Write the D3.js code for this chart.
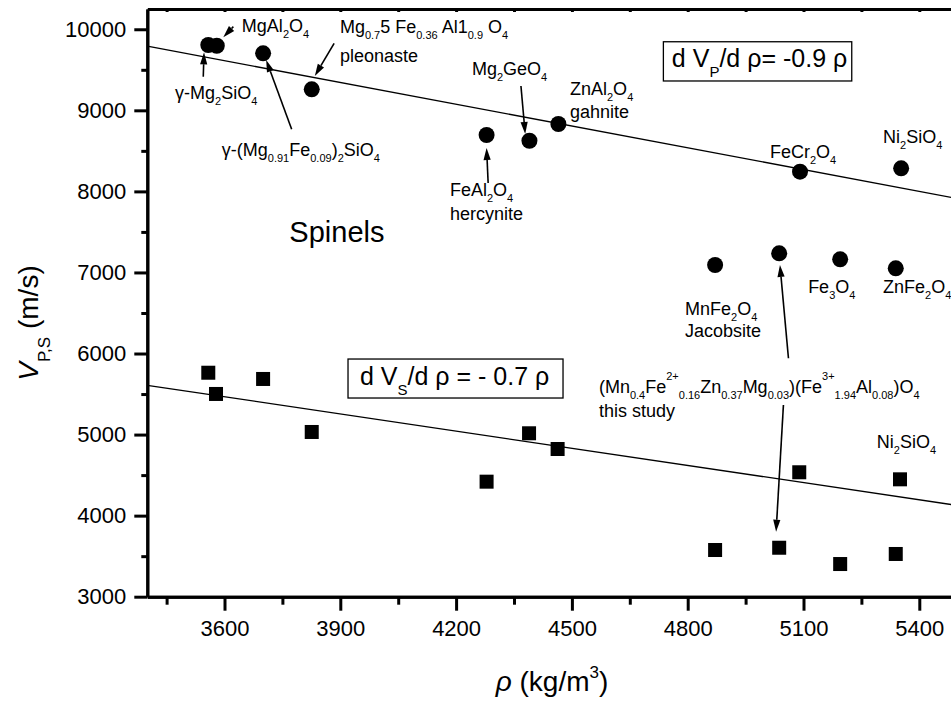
<!DOCTYPE html>
<html>
<head>
<meta charset="utf-8">
<title>Spinels velocity vs density</title>
<style>
  html, body {margin:0px; padding:0px; background:#fff;}
  svg {display:block;}
  text {font-family: "Liberation Sans", Arial, sans-serif; fill:#000; white-space:pre;}
</style>
</head>
<body>

<svg></svg>

<script src="https://d3js.org/d3.v7.min.js"></script>
<script>
// P-wave velocities (circles)
const vpNames = ["g-Mg2SiO4", "MgAl2O4", "g-(Mg,Fe)2SiO4", "pleonaste", "FeAl2O4", "Mg2GeO4", "ZnAl2O4",
                 "FeCr2O4", "Ni2SiO4", "MnFe2O4", "this study", "Fe3O4", "ZnFe2O4"];
const vpRho = [3558, 3580, 3700, 3826, 4279, 4390, 4465, 5091, 5353, 4871, 5037, 5195, 5339];
const vpVel = [9806, 9797, 9703, 9259, 8696, 8625, 8831, 8243, 8285, 7092, 7236, 7162, 7051];

// S-wave velocities (squares)
const vsRho = [3558, 3578, 3700, 3826, 4279, 4389, 4463, 5089, 5350, 4871, 5037, 5195, 5339];
const vsVel = [5763, 5501, 5686, 5032, 4419, 5016, 4822, 4535, 4448, 3576, 3604, 3403, 3527];

// linear fits
const fitRho = [3400, 5500];
const fitVp = [9791, 7911];
const fitVs = [5608, 4125];

// ticks
const xMajor = [3600, 3900, 4200, 4500, 4800, 5100, 5400];
const xMinor = [3450, 3750, 4050, 4350, 4650, 4950, 5250];
const yMajor = [3000, 4000, 5000, 6000, 7000, 8000, 9000, 10000];
const yMinor = [3500, 4500, 5500, 6500, 7500, 8500, 9500];

// annotation text, placed in data units
const labels = [
  {t: "MgAl_{2}O_{4}", r: 3645, v: 9970},
  {t: "Mg_{0.7}5 Fe_{0.36} Al1_{0.9} O_{4}", r: 3899, v: 9950},
  {t: "pleonaste", r: 3899, v: 9592},
  {t: "γ-Mg_{2}SiO_{4}", r: 3472, v: 9140},
  {t: "γ-(Mg_{0.91}Fe_{0.09})_{2}SiO_{4}", r: 3593, v: 8436},
  {t: "Mg_{2}GeO_{4}", r: 4241, v: 9436},
  {t: "ZnAl_{2}O_{4}", r: 4495, v: 9189},
  {t: "gahnite", r: 4495, v: 8902},
  {t: "FeAl_{2}O_{4}", r: 4184, v: 7943},
  {t: "hercynite", r: 4184, v: 7647},
  {t: "FeCr_{2}O_{4}", r: 5013, v: 8408},
  {t: "Ni_{2}SiO_{4}", r: 5306, v: 8593},
  {t: "MnFe_{2}O_{4}", r: 4793, v: 6475},
  {t: "Jacobsite", r: 4793, v: 6204},
  {t: "Fe_{3}O_{4}", r: 5112, v: 6746},
  {t: "ZnFe_{2}O_{4}", r: 5306, v: 6746},
  {t: "(Mn_{0.4}Fe^{2+}_{0.16}Zn_{0.37}Mg_{0.03})(Fe^{3+}_{1.94}Al_{0.08})O_{4}", r: 4570, v: 5513},
  {t: "this study", r: 4570, v: 5217},
  {t: "Ni_{2}SiO_{4}", r: 5290, v: 4834}
];

const arrows = [
  [[3623, 10032], [3597, 9901]],
  [[3545, 9415], [3547, 9716]],
  [[3774, 8766], [3708, 9621]],
  [[3884, 9827], [3834, 9423]],
  [[4368, 9300], [4379, 8708]],
  [[4283, 8103], [4279, 8535]],
  [[5061, 5941], [5039, 7092]],
  [[5048, 5365], [5029, 3802]]
];

const boxes = [
  {t: "d V_{P}/d ρ= -0.9 ρ", r: 4759, v: 9538, box: [4737, 5225, 9846, 9362]},
  {t: "d V_{S}/d ρ = - 0.7 ρ", r: 3951, v: 5612, box: [3920, 4477, 5932, 5451]}
];

const W = 951, H = 704;
const svg = d3.select('svg').attr('width', W).attr('height', H);

const x = d3.scaleLinear().domain([3400, 5500]).range([147.3, 957.9]);
const y = d3.scaleLinear().domain([3000, 10250]).range([596.7, 9]);

// text with _{sub} and ^{sup}
function rich(sel, str, size, subK, supK) {
  subK = subK || 0.33; supK = supK || 0.7;
  const small = Math.round(size * 0.6);
  const re = /([_^])\{([^}]*)\}|([^_^]+)/g;
  let cur = 0, m;
  while ((m = re.exec(str))) {
    let target, txt, fs;
    if (m[3] !== undefined) { target = 0; txt = m[3]; fs = size; }
    else if (m[1] === '_') { target = size * subK; txt = m[2]; fs = small; }
    else { target = -size * supK; txt = m[2]; fs = small; }
    sel.append('tspan').attr('dy', target - cur).style('font-size', fs + 'px').text(txt);
    cur = target;
  }
}

// fit lines
const line = d3.line().x(d => x(d[0])).y(d => y(d[1]));
svg.append('path').datum(fitRho.map((r, i) => [r, fitVp[i]]))
  .attr('d', line).attr('fill', 'none').attr('stroke', '#000').attr('stroke-width', 1.3);
svg.append('path').datum(fitRho.map((r, i) => [r, fitVs[i]]))
  .attr('d', line).attr('fill', 'none').attr('stroke', '#000').attr('stroke-width', 1.3);

// points
svg.append('g').selectAll('circle')
  .data(vpRho.map((r, i) => ({r: r, v: vpVel[i], name: vpNames[i]})))
  .enter().append('circle')
  .attr('cx', d => x(d.r)).attr('cy', d => y(d.v)).attr('r', 8).attr('fill', '#000');

const sq = 14;
svg.append('g').selectAll('rect')
  .data(vsRho.map((r, i) => ({r: r, v: vsVel[i]})))
  .enter().append('rect')
  .attr('x', d => x(d.r) - sq / 2).attr('y', d => y(d.v) - sq / 2)
  .attr('width', sq).attr('height', sq).attr('fill', '#000');

// axes
function styleAxis(g) {
  g.selectAll('path.domain').attr('stroke-width', 3);
  g.selectAll('.tick line').attr('stroke-width', 3);
  g.selectAll('.tick text').style('font-family', '"Liberation Sans", Arial, sans-serif').style('font-size', '22px').attr('fill', '#000');
}
const gx = svg.append('g').attr('transform', `translate(0,${y(3000)})`)
  .call(d3.axisBottom(x).tickValues(xMajor).tickFormat(d3.format('d')).tickSize(14).tickSizeOuter(0).tickPadding(10));
styleAxis(gx);
const gx2 = svg.append('g').attr('transform', `translate(0,${y(3000)})`)
  .call(d3.axisBottom(x).tickValues(xMinor).tickFormat('').tickSize(8).tickSizeOuter(0));
styleAxis(gx2);

const gy = svg.append('g').attr('transform', `translate(${x(3400)},0)`)
  .call(d3.axisLeft(y).tickValues(yMajor).tickFormat(d3.format('d')).tickSize(13).tickSizeOuter(0).tickPadding(8));
styleAxis(gy);
const gy2 = svg.append('g').attr('transform', `translate(${x(3400)},0)`)
  .call(d3.axisLeft(y).tickValues(yMinor).tickFormat('').tickSize(6).tickSizeOuter(0));
styleAxis(gy2);

// top frame with small inward ticks
const gt = svg.append('g').attr('transform', `translate(0,${y(10250)})`)
  .call(d3.axisTop(x).tickValues(xMajor.concat(xMinor)).tickFormat('').tickSize(-3).tickSizeOuter(0));
styleAxis(gt);

// axis titles
const xt = svg.append('text').attr('x', 552).attr('y', 691).attr('text-anchor', 'middle').style('font-size', '28px');
xt.append('tspan').style('font-style', 'italic').text('ρ');
rich(xt, ' (kg/m^{3})', 28, 0.33, 0.45);

const yt = svg.append('text').attr('transform', 'translate(38,323) rotate(-90)').attr('text-anchor', 'middle').style('font-size', '28px');
yt.append('tspan').style('font-style', 'italic').text('V');
rich(yt, '_{P,S} (m/s)', 28, 0.43, 0.7);

// labels
labels.forEach(function(l) {
  const t = svg.append('text').attr('x', x(l.r)).attr('y', y(l.v)).style('font-size', '18px');
  rich(t, l.t, 18);
});

svg.append('text').attr('x', x(3768)).attr('y', y(7379)).style('font-size', '29px').text('Spinels');

// boxed slope labels
boxes.forEach(function(b) {
  svg.append('rect')
    .attr('x', x(b.box[0])).attr('y', y(b.box[2]))
    .attr('width', x(b.box[1]) - x(b.box[0])).attr('height', y(b.box[3]) - y(b.box[2]))
    .attr('fill', 'none').attr('stroke', '#000').attr('stroke-width', 1.3);
  const t = svg.append('text').attr('x', x(b.r)).attr('y', y(b.v)).style('font-size', '25px');
  rich(t, b.t, 25, 0.42);
});

// arrows
arrows.forEach(function(a) {
  const x0 = x(a[0][0]), y0 = y(a[0][1]), x1 = x(a[1][0]), y1 = y(a[1][1]);
  const len = Math.hypot(x1 - x0, y1 - y0);
  const ux = (x1 - x0) / len, uy = (y1 - y0) / len;
  const L = 12, w = 3.6;
  const bx = x1 - ux * L, by = y1 - uy * L;
  svg.append('line').attr('x1', x0).attr('y1', y0).attr('x2', bx).attr('y2', by)
    .attr('stroke', '#000').attr('stroke-width', 1.6);
  svg.append('path')
    .attr('d', `M${x1},${y1}L${bx - uy * w},${by + ux * w}L${bx + uy * w},${by - ux * w}Z`)
    .attr('fill', '#000');
});
</script>
</body>
</html>
